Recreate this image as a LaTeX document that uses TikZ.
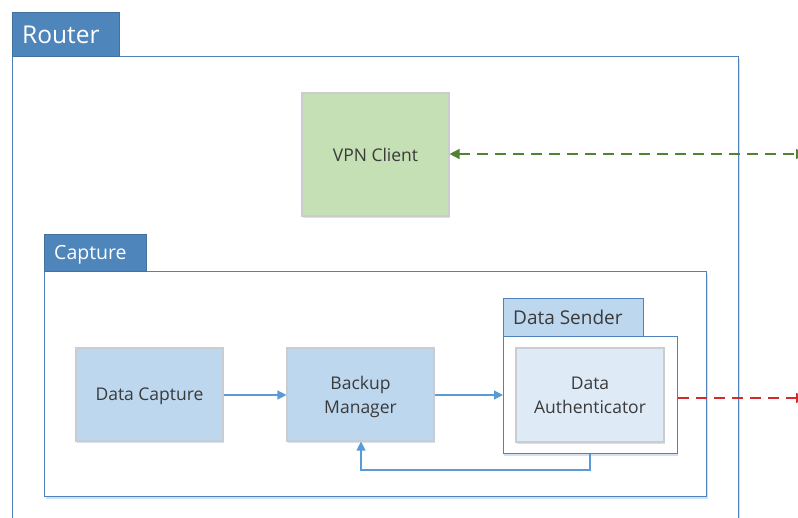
\documentclass[tikz,border=0pt]{standalone}
\usepackage{fontspec}
\setmainfont{Open Sans}
\usetikzlibrary{arrows.meta,shadows}
\definecolor{tabblue}{HTML}{4E86BC}
\definecolor{tabedge}{HTML}{41719C}
\definecolor{framblue}{HTML}{4F81BD}
\definecolor{shadeblue}{HTML}{D3E2F2}
\definecolor{boxblue}{HTML}{BDD7EE}
\definecolor{paleblue}{HTML}{DEEBF7}
\definecolor{vpngreen}{HTML}{C5E0B4}
\definecolor{boxedge}{HTML}{C9CDD2}
\definecolor{linkblue}{HTML}{5B9BD5}
\definecolor{linkgreen}{HTML}{548235}
\definecolor{linkred}{HTML}{D42A2A}
\definecolor{txt}{HTML}{3A3A3A}
\tikzset{
  shade/.style={drop shadow={shadow xshift=0.8pt, shadow yshift=-2pt, fill=shadeblue, opacity=1}},
  frame/.style={draw=framblue, line width=1.4pt, fill=white, shade},
  tabbox/.style={draw=tabedge, line width=1pt, fill=tabblue, text=white, anchor=north west, inner sep=0pt, align=left},
  block/.style={draw=boxedge, line width=1.1pt, fill=boxblue, text=txt, align=center,
                font=\fontsize{17.5}{24}\selectfont, inner sep=0pt, text depth=0pt, shade},
  flow/.style={draw=linkblue, line width=1.2pt, -{Triangle[length=9pt,width=9pt]}},
}
\begin{document}
\begin{tikzpicture}[x=1pt,y=-1pt]
\clip (0,0) rectangle (798,517);
\fill[white] (0,0) rectangle (798,517);

% Router
\node[frame, minimum width=726pt, minimum height=480pt, anchor=north west, inner sep=0pt] (router) at (12,56) {};
\node[tabbox, minimum width=107pt, minimum height=44pt] (routertab) at (12,12) {};
\node[text=white, font=\fontsize{24.5}{28}\selectfont, anchor=west, inner sep=0pt] (routerlbl) at (22,35) {Router};

% VPN client
\node[block, fill=vpngreen, minimum width=147pt, minimum height=123pt] (vpn) at (375.5,154.5) {VPN Client};

% Capture
\node[frame, minimum width=662pt, minimum height=225pt, anchor=north west, inner sep=0pt] (capture) at (44,271) {};
\node[tabbox, minimum width=102pt, minimum height=37pt] (capturetab) at (44,234) {};
\node[text=white, font=\fontsize{19.5}{24}\selectfont, anchor=west, inner sep=0pt] (capturelbl) at (54,255) {Capture};

% Data capture and backup manager
\node[block, minimum width=147pt, minimum height=93pt] (dc) at (149.5,394.5) {Data Capture};
\node[block, minimum width=147pt, minimum height=93pt] (bm) at (360.5,394.5) {Backup\\Manager};

% Data sender
\node[frame, line width=1.2pt, minimum width=174pt, minimum height=117pt, anchor=north west, inner sep=0pt] (sender) at (503,336) {};
\node[draw=framblue, line width=1.2pt, fill=boxblue, minimum width=140pt, minimum height=38pt, anchor=north west, inner sep=0pt] (sendertab) at (503,298) {};
\node[text=txt, font=\fontsize{19}{24}\selectfont, anchor=west, inner sep=0pt] (senderlbl) at (513,317) {Data Sender};
\node[block, fill=paleblue, minimum width=148pt, minimum height=94pt] (auth) at (590,395) {Data\\Authenticator};

% Connectors
\draw[flow] (dc.east |- 0,395) -- (bm.west |- 0,395);
\draw[flow] (bm.east |- 0,395) -- (sender.west |- 0,395);
\coordinate (fbdown) at (590,470);
\coordinate (fbleft) at (361,470);
\draw[flow] (sender.south -| fbdown) -- (fbdown) -- (fbleft) -- (bm.south -| fbleft);

\coordinate (vpnout) at (806,154);
\draw[draw=linkgreen, line width=1.4pt, dash pattern=on 11pt off 7pt,
      {Triangle[length=10pt,width=10pt]}-{Triangle[length=10pt,width=10pt]}] (vpn.east |- vpnout) -- (vpnout);
\coordinate (authout) at (806,398);
\draw[draw=linkred, line width=1.4pt, dash pattern=on 11pt off 7pt,
      -{Triangle[length=10pt,width=10pt]}] (sender.east |- authout) -- (authout);
\end{tikzpicture}
\end{document}
